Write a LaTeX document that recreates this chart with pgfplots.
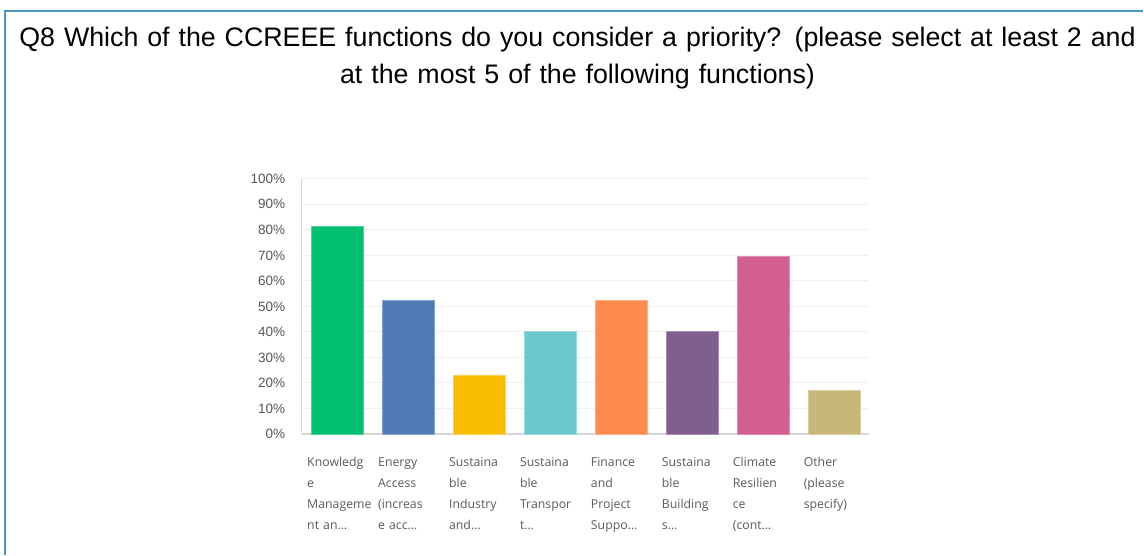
\documentclass[border=0pt]{standalone}
\usepackage{pgfplots}
\pgfplotsset{compat=1.18}
\usepackage{fontspec}
\setmainfont{Liberation Sans}
\newfontfamily\titlefont{Liberation Sans}
\newfontfamily\labfont{Open Sans}
\definecolor{bordercol}{HTML}{4A95C4}
\definecolor{gridcol}{HTML}{EFEFEF}
\definecolor{axcol}{HTML}{D6D6D6}
\definecolor{tickcol}{HTML}{555555}
\definecolor{labcol}{HTML}{5A5A5A}
\definecolor{c1}{HTML}{00BF6F}
\definecolor{c2}{HTML}{507CB6}
\definecolor{c3}{HTML}{F9BE00}
\definecolor{c4}{HTML}{6BC8CD}
\definecolor{c5}{HTML}{FF8B4F}
\definecolor{c6}{HTML}{7F5F90}
\definecolor{c7}{HTML}{D25F90}
\definecolor{c8}{HTML}{C9B77A}
\begin{document}
\begin{tikzpicture}[x=1pt,y=1pt]
\path (0,0) rectangle (1144,555);
\draw[bordercol,line width=2pt] (5.5,0) -- (5.5,543.5) -- (1144,543.5);
\node[font=\titlefont\fontsize{26.8}{37}\selectfont,align=center,text width=1120pt,inner sep=0pt] at (578,497) {Q8 Which of the CCREEE functions do you consider a priority? (please select at least 2 and\\at the most 5 of the following functions)};
\begin{axis}[
  at={(302pt,120.7pt)}, anchor=south west,
  scale only axis, width=568pt, height=255.3pt,
  xmin=-0.5, xmax=7.5, ymin=0, ymax=100,
  axis x line*=bottom, axis y line*=left,
  axis line style={axcol, line width=1pt, -},
  x axis line style={line width=1.6pt},
  ytick={0,10,...,100},
  yticklabel={\pgfmathprintnumber{\tick}\%},
  /pgf/number format/assume math mode=true,
  yticklabel style={font=\fontsize{13.5}{15}\selectfont, text=tickcol, xshift=-13pt},
  ymajorgrids, grid style={gridcol, line width=1pt},
  major tick length=0pt,
  xtick={0,...,7},
  xticklabels={{Knowledg\\e\\Manageme\\nt an\ldots},{Energy\\Access\\(increas\\e acc\ldots},{Sustaina\\ble\\Industry\\and\ldots},{Sustaina\\ble\\Transpor\\t\ldots},{Finance\\and\\Project\\Suppo\ldots},{Sustaina\\ble\\Building\\s\ldots},{Climate\\Resilien\\ce\\(cont\ldots},{Other\\(please\\specify)}},
  xticklabel style={font=\labfont\fontsize{12.3}{21}\selectfont, text=labcol, align=left, text width=62pt, anchor=north, yshift=-20pt, xshift=1pt},
  ybar, bar width=52pt, bar shift=0pt,
  clip=false,
]
\addplot[draw=c1!70!white, fill=c1] coordinates {(0,81.3)};
\addplot[draw=c2!70!white, fill=c2] coordinates {(1,52.5)};
\addplot[draw=c3!70!white, fill=c3] coordinates {(2,23.1)};
\addplot[draw=c4!70!white, fill=c4] coordinates {(3,40.3)};
\addplot[draw=c5!70!white, fill=c5] coordinates {(4,52.5)};
\addplot[draw=c6!70!white, fill=c6] coordinates {(5,40.3)};
\addplot[draw=c7!70!white, fill=c7] coordinates {(6,69.8)};
\addplot[draw=c8!70!white, fill=c8] coordinates {(7,17.2)};
\end{axis}
\end{tikzpicture}
\end{document}
